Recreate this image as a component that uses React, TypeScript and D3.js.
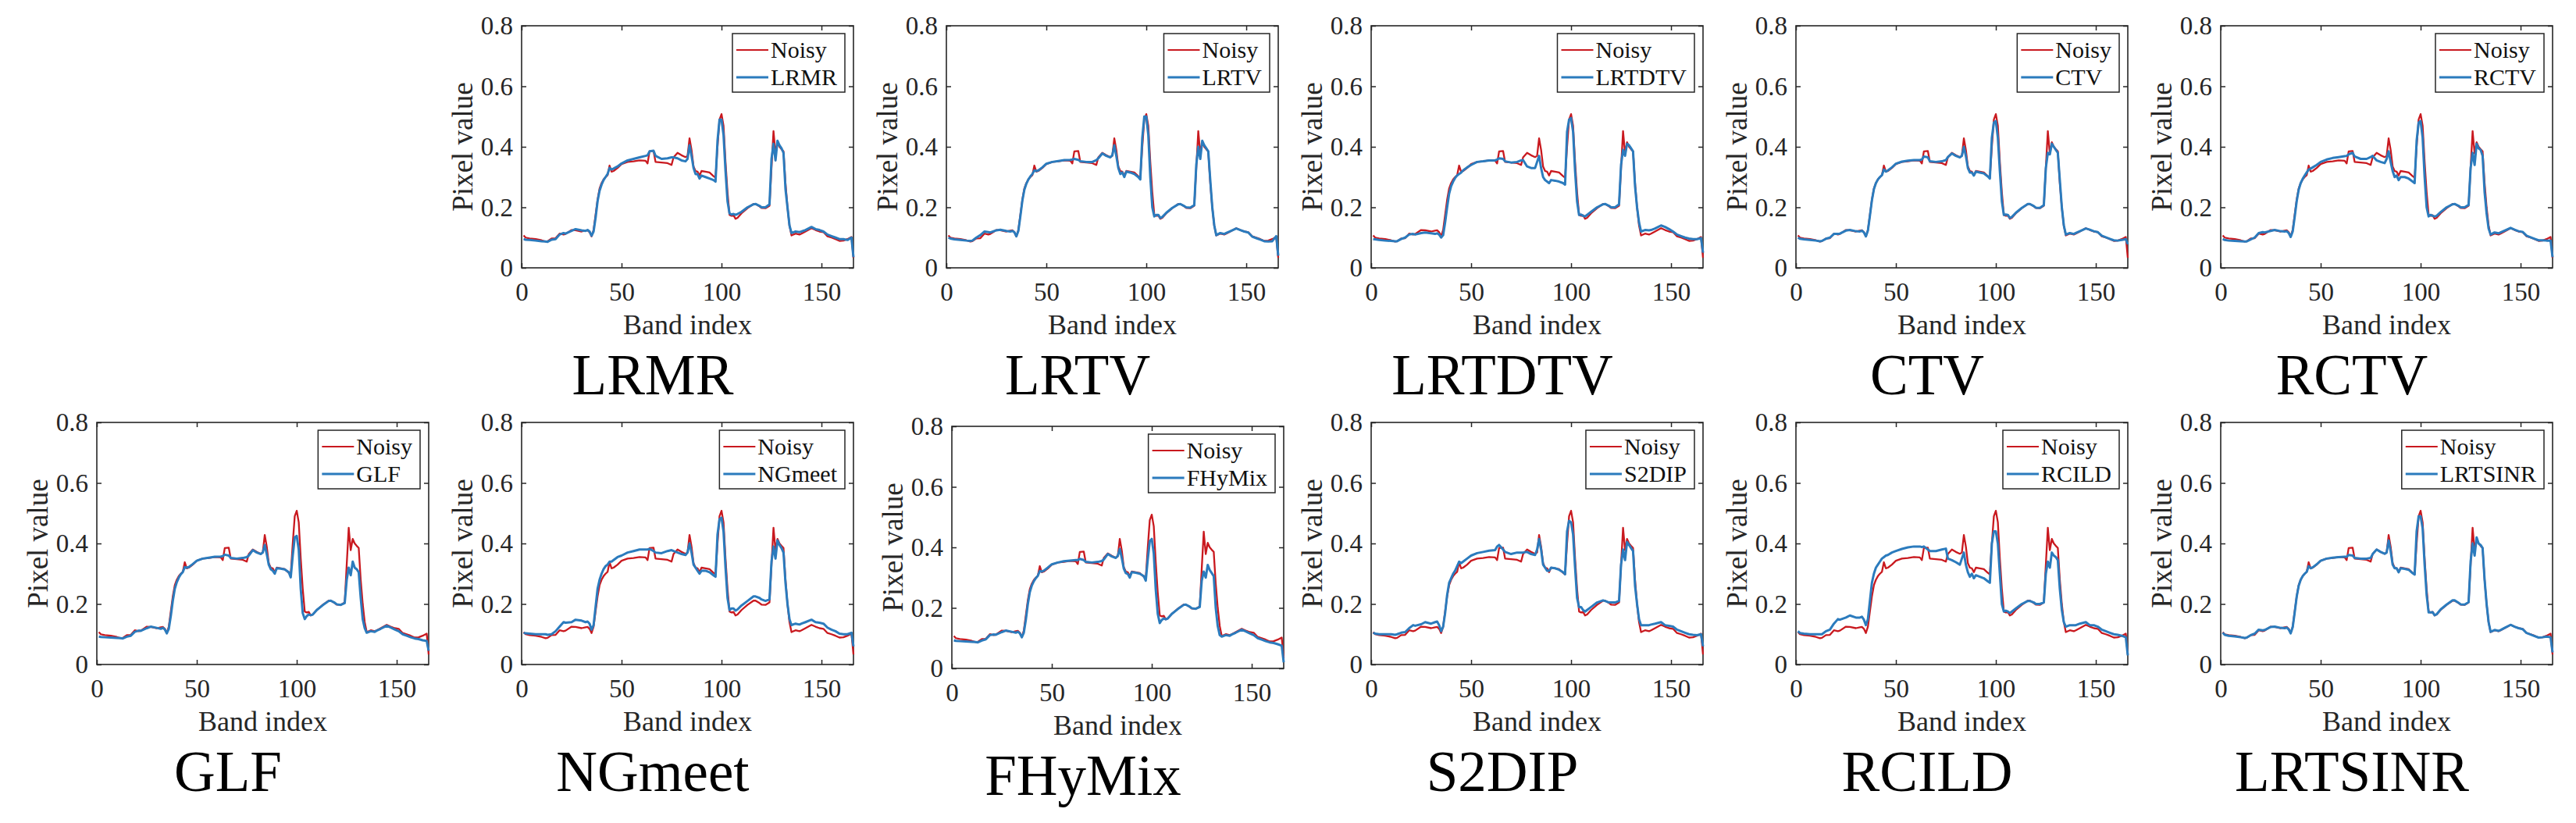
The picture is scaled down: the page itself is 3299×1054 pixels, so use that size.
import * as d3 from "d3";
import * as React from "react";

const bands = [
  1, 2, 4, 7, 10, 12, 13, 15, 17, 19,
  21, 22, 25, 27, 30, 32, 33, 34, 35, 36,
  37, 38, 39, 40, 41, 42, 43, 44, 45, 46,
  48, 50, 53, 56, 59, 62, 63, 64, 66, 67,
  70, 73, 75, 76, 78, 80, 82, 83, 84, 85,
  86, 87, 88, 89, 90, 92, 94, 96, 97, 98,
  99, 100, 101, 102, 103, 104, 105, 106, 107, 108,
  110, 113, 116, 117, 119, 120, 122, 124, 125, 126,
  127, 128, 129, 130, 131, 132, 133, 134, 135, 137,
  139, 140, 142, 145, 147, 149, 151, 153, 155, 157,
  159, 161, 163, 165, 166,
];

const noisy = [
  0.107, 0.1, 0.097, 0.095, 0.091, 0.087, 0.088, 0.097, 0.098, 0.113,
  0.11, 0.112, 0.125, 0.124, 0.12, 0.123, 0.124, 0.118, 0.104, 0.125,
  0.175, 0.225, 0.262, 0.28, 0.292, 0.3, 0.306, 0.338, 0.318, 0.32,
  0.33, 0.343, 0.35, 0.352, 0.355, 0.354, 0.345, 0.385, 0.386, 0.35,
  0.348, 0.346, 0.34, 0.365, 0.38, 0.372, 0.366, 0.37, 0.428, 0.39,
  0.335, 0.32, 0.318, 0.305, 0.32, 0.318, 0.315, 0.303, 0.298, 0.4,
  0.49, 0.508, 0.47, 0.35, 0.25, 0.175, 0.172, 0.174, 0.162, 0.165,
  0.18, 0.197, 0.211, 0.211, 0.203, 0.198, 0.197, 0.205, 0.33, 0.452,
  0.378, 0.415, 0.4, 0.392, 0.385, 0.28, 0.2, 0.14, 0.107, 0.113,
  0.11, 0.113, 0.12, 0.131, 0.125, 0.12, 0.118, 0.104, 0.1, 0.095,
  0.089, 0.09, 0.095, 0.102, 0.033,
];

const lrmr = [
  0.095, 0.093, 0.092, 0.09, 0.088, 0.087, 0.086, 0.093, 0.095, 0.11,
  0.115, 0.113, 0.122, 0.128, 0.124, 0.122, 0.125, 0.12, 0.106, 0.12,
  0.165, 0.22, 0.255, 0.275, 0.29, 0.3, 0.31, 0.33, 0.325, 0.328,
  0.335, 0.345, 0.355, 0.36, 0.365, 0.37, 0.372, 0.385, 0.387, 0.37,
  0.36, 0.362, 0.365, 0.365, 0.362, 0.355, 0.352, 0.36, 0.405, 0.37,
  0.33, 0.31, 0.31, 0.295, 0.305, 0.3, 0.295, 0.29, 0.285, 0.42,
  0.49, 0.49, 0.44, 0.32, 0.22, 0.18, 0.176, 0.178, 0.175, 0.178,
  0.185, 0.2, 0.21, 0.211, 0.205, 0.2, 0.2, 0.21, 0.36, 0.41,
  0.355, 0.42, 0.405, 0.395, 0.38, 0.26, 0.2, 0.14, 0.115, 0.12,
  0.118, 0.12, 0.125, 0.135, 0.128, 0.125, 0.12, 0.11, 0.105, 0.1,
  0.095, 0.095, 0.092, 0.1, 0.035,
];

const lrtv = [
  0.1, 0.097, 0.094, 0.092, 0.09, 0.089, 0.09, 0.1, 0.108, 0.12,
  0.118, 0.117, 0.124, 0.126, 0.122, 0.12, 0.122, 0.118, 0.104, 0.122,
  0.17, 0.222, 0.258, 0.278, 0.292, 0.302, 0.31, 0.322, 0.32, 0.322,
  0.332, 0.344, 0.35, 0.353, 0.356, 0.357, 0.358, 0.36, 0.357, 0.352,
  0.35, 0.35, 0.356, 0.362, 0.378, 0.37, 0.365, 0.372, 0.405, 0.37,
  0.33, 0.31, 0.315, 0.3, 0.318, 0.315, 0.31, 0.3, 0.292, 0.43,
  0.5, 0.5, 0.44, 0.3, 0.2, 0.17, 0.175, 0.175, 0.165, 0.168,
  0.182, 0.198, 0.21, 0.211, 0.204, 0.2, 0.199, 0.207, 0.34, 0.4,
  0.36, 0.42, 0.405, 0.395, 0.385, 0.29, 0.2, 0.14, 0.108, 0.115,
  0.112, 0.115, 0.121, 0.13, 0.125, 0.12, 0.117, 0.103, 0.098, 0.093,
  0.088, 0.087, 0.088, 0.105, 0.04,
];

const lrtdtv = [
  0.095, 0.094, 0.092, 0.09, 0.089, 0.088, 0.088, 0.095, 0.1, 0.11,
  0.112, 0.11, 0.115, 0.117, 0.114, 0.112, 0.114, 0.11, 0.1, 0.108,
  0.15, 0.2, 0.245, 0.27, 0.285, 0.297, 0.305, 0.31, 0.315, 0.322,
  0.332, 0.34, 0.35, 0.352, 0.355, 0.355, 0.358, 0.362, 0.36, 0.352,
  0.348, 0.35, 0.355, 0.356, 0.335, 0.33, 0.33, 0.35, 0.37, 0.33,
  0.3, 0.29, 0.285, 0.28, 0.29, 0.288, 0.285, 0.28, 0.275, 0.45,
  0.49, 0.495, 0.45, 0.32, 0.22, 0.175, 0.176, 0.172, 0.17, 0.175,
  0.185, 0.2, 0.21, 0.211, 0.205, 0.2, 0.2, 0.21, 0.34, 0.39,
  0.37, 0.41, 0.405, 0.395, 0.385, 0.27, 0.2, 0.15, 0.12, 0.125,
  0.124, 0.125, 0.13, 0.14, 0.135, 0.128, 0.12, 0.11, 0.105, 0.1,
  0.097, 0.095, 0.095, 0.098, 0.05,
];

const ctv = [
  0.1, 0.096, 0.094, 0.092, 0.09, 0.088, 0.089, 0.096, 0.1, 0.112,
  0.112, 0.113, 0.123, 0.125, 0.121, 0.12, 0.123, 0.117, 0.104, 0.123,
  0.172, 0.223, 0.26, 0.28, 0.292, 0.3, 0.306, 0.325, 0.318, 0.322,
  0.332, 0.344, 0.351, 0.354, 0.356, 0.356, 0.358, 0.368, 0.365, 0.352,
  0.35, 0.352, 0.356, 0.366, 0.378, 0.37, 0.365, 0.37, 0.4, 0.37,
  0.33, 0.315, 0.315, 0.305, 0.318, 0.315, 0.312, 0.302, 0.295, 0.43,
  0.48, 0.485, 0.43, 0.32, 0.22, 0.175, 0.176, 0.175, 0.165, 0.168,
  0.182, 0.198, 0.211, 0.211, 0.204, 0.199, 0.198, 0.207, 0.33, 0.38,
  0.375, 0.41, 0.4, 0.39, 0.38, 0.29, 0.2, 0.14, 0.11, 0.115,
  0.112, 0.115, 0.121, 0.13, 0.126, 0.121, 0.118, 0.106, 0.101, 0.096,
  0.091, 0.09, 0.092, 0.095, 0.078,
];

const rctv = [
  0.095, 0.092, 0.09, 0.089, 0.088, 0.087, 0.087, 0.094, 0.1, 0.115,
  0.118, 0.117, 0.122, 0.125, 0.121, 0.12, 0.121, 0.115, 0.102, 0.12,
  0.168, 0.22, 0.258, 0.28, 0.294, 0.305, 0.315, 0.325, 0.328, 0.332,
  0.34, 0.35, 0.358, 0.363, 0.366, 0.369, 0.37, 0.375, 0.38, 0.368,
  0.36, 0.36, 0.366, 0.37, 0.355, 0.35, 0.346, 0.36, 0.385, 0.35,
  0.32, 0.3, 0.305, 0.29, 0.3, 0.3, 0.295, 0.285, 0.28, 0.42,
  0.48, 0.485, 0.43, 0.3, 0.2, 0.17, 0.175, 0.172, 0.17, 0.172,
  0.184, 0.2, 0.21, 0.211, 0.205, 0.2, 0.2, 0.208, 0.33, 0.38,
  0.34, 0.41, 0.395, 0.39, 0.37, 0.25, 0.18, 0.13, 0.11, 0.117,
  0.114, 0.117, 0.123, 0.132, 0.126, 0.121, 0.119, 0.106, 0.101, 0.096,
  0.091, 0.091, 0.09, 0.09, 0.035,
];

const glf = [
  0.092, 0.091, 0.09, 0.089, 0.088, 0.087, 0.086, 0.092, 0.095, 0.108,
  0.112, 0.111, 0.12, 0.125, 0.121, 0.118, 0.121, 0.116, 0.103, 0.118,
  0.16, 0.21, 0.25, 0.272, 0.287, 0.298, 0.305, 0.322, 0.32, 0.322,
  0.332, 0.343, 0.35, 0.353, 0.356, 0.357, 0.358, 0.363, 0.36, 0.352,
  0.35, 0.352, 0.355, 0.36, 0.378, 0.37, 0.365, 0.37, 0.395, 0.365,
  0.33, 0.315, 0.31, 0.3, 0.318, 0.317, 0.314, 0.305, 0.288, 0.36,
  0.42, 0.425, 0.38, 0.25, 0.17, 0.15, 0.16, 0.165, 0.163, 0.165,
  0.18, 0.196, 0.21, 0.211, 0.204, 0.199, 0.197, 0.203, 0.28, 0.32,
  0.295, 0.34, 0.32, 0.315, 0.305, 0.22, 0.15, 0.12, 0.105, 0.11,
  0.108, 0.112, 0.118, 0.128, 0.122, 0.116, 0.11, 0.1, 0.095, 0.09,
  0.086, 0.084, 0.08, 0.078, 0.045,
];

const ngmeet = [
  0.105, 0.103, 0.102, 0.1, 0.1, 0.1, 0.098, 0.1, 0.11, 0.125,
  0.14, 0.138, 0.14, 0.148, 0.145, 0.14, 0.142, 0.135, 0.115, 0.13,
  0.19, 0.25, 0.28, 0.3, 0.315, 0.325, 0.33, 0.34, 0.34, 0.345,
  0.355, 0.36, 0.37, 0.375, 0.38, 0.38, 0.38, 0.382, 0.375, 0.37,
  0.368, 0.375, 0.378, 0.375, 0.37, 0.365, 0.362, 0.37, 0.4, 0.37,
  0.33, 0.32, 0.31, 0.3, 0.31, 0.31, 0.305, 0.295, 0.29, 0.43,
  0.48, 0.485, 0.44, 0.32, 0.22, 0.18, 0.185, 0.185, 0.178, 0.182,
  0.195, 0.21, 0.225, 0.225, 0.22, 0.215, 0.21, 0.215, 0.34, 0.39,
  0.35, 0.41, 0.395, 0.385, 0.37, 0.27, 0.2, 0.15, 0.13, 0.135,
  0.132, 0.135, 0.14, 0.148, 0.14, 0.138, 0.135, 0.122, 0.115, 0.11,
  0.102, 0.1, 0.1, 0.105, 0.06,
];

const fhymix = [
  0.093, 0.091, 0.09, 0.089, 0.088, 0.087, 0.086, 0.092, 0.096, 0.11,
  0.112, 0.111, 0.12, 0.125, 0.121, 0.118, 0.121, 0.116, 0.103, 0.118,
  0.16, 0.212, 0.252, 0.274, 0.288, 0.298, 0.306, 0.322, 0.32, 0.323,
  0.333, 0.344, 0.35, 0.354, 0.356, 0.358, 0.358, 0.362, 0.358, 0.352,
  0.35, 0.352, 0.355, 0.36, 0.378, 0.37, 0.365, 0.372, 0.395, 0.365,
  0.33, 0.315, 0.312, 0.3, 0.318, 0.316, 0.313, 0.305, 0.29, 0.36,
  0.42, 0.428, 0.38, 0.26, 0.18, 0.15, 0.16, 0.165, 0.162, 0.165,
  0.18, 0.196, 0.21, 0.211, 0.204, 0.199, 0.197, 0.203, 0.29, 0.32,
  0.3, 0.342, 0.325, 0.315, 0.305, 0.2, 0.14, 0.11, 0.105, 0.11,
  0.108, 0.112, 0.118, 0.128, 0.122, 0.116, 0.11, 0.1, 0.095, 0.09,
  0.086, 0.084, 0.08, 0.075, 0.02,
];

const s2dip = [
  0.105, 0.102, 0.1, 0.1, 0.1, 0.098, 0.1, 0.105, 0.107, 0.12,
  0.13, 0.128, 0.133, 0.14, 0.135, 0.14, 0.142, 0.13, 0.11, 0.125,
  0.17, 0.23, 0.27, 0.285, 0.3, 0.31, 0.325, 0.34, 0.335, 0.34,
  0.35, 0.36, 0.368, 0.372, 0.376, 0.378, 0.39, 0.395, 0.38, 0.372,
  0.365, 0.37, 0.37, 0.37, 0.372, 0.365, 0.362, 0.38, 0.415, 0.38,
  0.33, 0.32, 0.31, 0.31, 0.32, 0.318, 0.313, 0.305, 0.298, 0.44,
  0.475, 0.47, 0.43, 0.32, 0.22, 0.19, 0.19, 0.18, 0.175, 0.18,
  0.19, 0.205, 0.212, 0.21, 0.205, 0.205, 0.205, 0.21, 0.33, 0.38,
  0.345, 0.405, 0.395, 0.385, 0.375, 0.26, 0.2, 0.15, 0.13, 0.13,
  0.13, 0.132, 0.135, 0.14, 0.13, 0.128, 0.125, 0.115, 0.11, 0.105,
  0.1, 0.098, 0.097, 0.1, 0.06,
];

const rcild = [
  0.11, 0.104, 0.102, 0.1, 0.1, 0.1, 0.1, 0.11, 0.115, 0.135,
  0.15, 0.148, 0.155, 0.162, 0.155, 0.155, 0.158, 0.148, 0.13, 0.15,
  0.21, 0.27, 0.3, 0.32, 0.33, 0.34, 0.35, 0.355, 0.36, 0.362,
  0.37, 0.375, 0.382, 0.387, 0.39, 0.39, 0.388, 0.39, 0.38, 0.375,
  0.375, 0.38, 0.383, 0.35, 0.345, 0.338, 0.33, 0.35, 0.37, 0.33,
  0.305, 0.29, 0.3, 0.285, 0.295, 0.29, 0.285, 0.275, 0.27, 0.4,
  0.44, 0.44, 0.4, 0.3, 0.2, 0.175, 0.178, 0.175, 0.17, 0.175,
  0.185, 0.2, 0.21, 0.21, 0.205, 0.2, 0.2, 0.205, 0.3, 0.34,
  0.32, 0.37, 0.36, 0.355, 0.345, 0.25, 0.18, 0.14, 0.125, 0.13,
  0.13, 0.13, 0.135, 0.14, 0.13, 0.13, 0.125, 0.115, 0.11, 0.105,
  0.1, 0.098, 0.095, 0.09, 0.03,
];

const lrtsinr = [
  0.105, 0.098, 0.095, 0.093, 0.09, 0.088, 0.089, 0.097, 0.102, 0.115,
  0.113, 0.114, 0.124, 0.125, 0.121, 0.12, 0.122, 0.116, 0.103, 0.123,
  0.172, 0.224, 0.26, 0.28, 0.292, 0.3, 0.306, 0.325, 0.318, 0.321,
  0.331, 0.343, 0.35, 0.353, 0.355, 0.356, 0.356, 0.362, 0.36, 0.352,
  0.35, 0.35, 0.352, 0.365, 0.38, 0.372, 0.366, 0.37, 0.41, 0.375,
  0.33, 0.318, 0.318, 0.305, 0.318, 0.316, 0.313, 0.302, 0.297, 0.44,
  0.49, 0.49, 0.45, 0.33, 0.23, 0.172, 0.172, 0.173, 0.163, 0.166,
  0.182, 0.198, 0.212, 0.212, 0.204, 0.199, 0.198, 0.206, 0.34, 0.4,
  0.36, 0.42, 0.4, 0.395, 0.385, 0.28, 0.2, 0.14, 0.108, 0.114,
  0.111, 0.114, 0.121, 0.131, 0.125, 0.12, 0.117, 0.104, 0.099, 0.094,
  0.089, 0.09, 0.092, 0.09, 0.04,
];

const xTicks = [0, 50, 100, 150];
const yTicks = [0, 0.2, 0.4, 0.6, 0.8];

const WIDTH = 3299;
const HEIGHT = 1054;
const PLOT_W = 425;
const PLOT_H = 310;
const COL_X = 124;
const COL_STEP = 544;
const ROW_Y = [33, 541];

const RED = "#c9191f";
const BLUE = "#2b7bbd";
const AXIS = "#262626";
const FONT = "Liberation Serif, Times New Roman, serif";

interface Panel {
  name: string;
  values: number[];
  col: number;
  row: number;
  dx?: number;
  dy?: number;
}

const panels: Panel[] = [
  { name: "LRMR", values: lrmr, col: 1, row: 0 },
  { name: "LRTV", values: lrtv, col: 2, row: 0 },
  { name: "LRTDTV", values: lrtdtv, col: 3, row: 0 },
  { name: "CTV", values: ctv, col: 4, row: 0 },
  { name: "RCTV", values: rctv, col: 5, row: 0 },
  { name: "GLF", values: glf, col: 0, row: 1 },
  { name: "NGmeet", values: ngmeet, col: 1, row: 1 },
  // this one sits a few pixels lower / right in the original figure
  { name: "FHyMix", values: fhymix, col: 2, row: 1, dx: 7, dy: 5 },
  { name: "S2DIP", values: s2dip, col: 3, row: 1 },
  { name: "RCILD", values: rcild, col: 4, row: 1 },
  { name: "LRTSINR", values: lrtsinr, col: 5, row: 1 },
];

let measureCtx: CanvasRenderingContext2D | null = null;
function textWidth(s: string, size: number) {
  if (!measureCtx) measureCtx = document.createElement("canvas").getContext("2d");
  if (!measureCtx) return s.length * size * 0.55;
  measureCtx.font = `${size}px "Liberation Serif", serif`;
  return measureCtx.measureText(s).width;
}

function drawPanel(root: d3.Selection<SVGSVGElement, unknown, null, undefined>, p: Panel) {
  const left = COL_X + COL_STEP * p.col + (p.dx || 0);
  const top = ROW_Y[p.row] + (p.dy || 0);

  const x = d3.scaleLinear().domain([0, 166]).range([0, PLOT_W]);
  const y = d3.scaleLinear().domain([0, 0.8]).range([PLOT_H, 0]);

  const g = root.append("g").attr("transform", `translate(${left},${top})`);

  // axes: ticks point inward on every side, labels only bottom / left
  const styleAxis = (a: d3.Selection<SVGGElement, unknown, null, undefined>) => {
    a.attr("font-family", null).attr("font-size", null);
    a.style("font-family", FONT).style("font-size", "33px");
    a.select(".domain").remove();
    a.selectAll(".tick line").attr("stroke", AXIS).attr("stroke-width", 1.5);
    a.selectAll(".tick text").attr("fill", AXIS);
  };

  g.append("g")
    .attr("transform", `translate(0,${PLOT_H})`)
    .call(d3.axisBottom(x).tickValues(xTicks).tickSizeInner(-6).tickSizeOuter(0).tickPadding(19).tickFormat(d3.format("d")))
    .call(styleAxis);
  g.append("g")
    .call(d3.axisTop(x).tickValues(xTicks).tickSizeInner(-6).tickSizeOuter(0).tickFormat(() => ""))
    .call(styleAxis);
  g.append("g")
    .call(
      d3
        .axisLeft(y)
        .tickValues(yTicks)
        .tickSizeInner(-6)
        .tickSizeOuter(0)
        .tickPadding(11)
        .tickFormat((d) => (+d === 0 ? "0" : d3.format(".1f")(+d)))
    )
    .call(styleAxis);
  g.append("g")
    .attr("transform", `translate(${PLOT_W},0)`)
    .call(d3.axisRight(y).tickValues(yTicks).tickSizeInner(-6).tickSizeOuter(0).tickFormat(() => ""))
    .call(styleAxis);

  g.append("rect")
    .attr("width", PLOT_W)
    .attr("height", PLOT_H)
    .attr("fill", "none")
    .attr("stroke", AXIS)
    .attr("stroke-width", 1.6);

  const line = d3
    .line<number>()
    .x((_, i) => x(bands[i]))
    .y((d) => y(d));

  g.append("path")
    .attr("d", line(noisy))
    .attr("fill", "none")
    .attr("stroke", RED)
    .attr("stroke-width", 2.3)
    .attr("stroke-linejoin", "round");
  g.append("path")
    .attr("d", line(p.values))
    .attr("fill", "none")
    .attr("stroke", BLUE)
    .attr("stroke-width", 3)
    .attr("stroke-linejoin", "round");

  // legend, top-right inside the box
  const lw = 49 + Math.max(textWidth("Noisy", 30), textWidth(p.name, 30)) + 10;
  const leg = g.append("g").attr("transform", `translate(${PLOT_W - 11 - lw},10)`);
  leg.append("rect")
    .attr("width", lw)
    .attr("height", 75)
    .attr("fill", "white")
    .attr("stroke", AXIS)
    .attr("stroke-width", 1.5);
  const entries = [
    { label: "Noisy", color: RED, w: 2 },
    { label: p.name, color: BLUE, w: 3 },
  ];
  entries.forEach((e, i) => {
    const cy = 21 + i * 35;
    leg.append("line")
      .attr("x1", 5)
      .attr("x2", 46)
      .attr("y1", cy)
      .attr("y2", cy)
      .attr("stroke", e.color)
      .attr("stroke-width", e.w);
    leg.append("text")
      .attr("x", 49)
      .attr("y", cy + 10)
      .style("font-family", FONT)
      .style("font-size", "30px")
      .attr("fill", "#111")
      .text(e.label);
  });

  g.append("text")
    .attr("x", PLOT_W / 2)
    .attr("y", PLOT_H + 85)
    .attr("text-anchor", "middle")
    .style("font-family", FONT)
    .style("font-size", "36px")
    .attr("fill", AXIS)
    .text("Band index");

  g.append("text")
    .attr("transform", `translate(-63,${PLOT_H / 2}) rotate(-90)`)
    .attr("text-anchor", "middle")
    .style("font-family", FONT)
    .style("font-size", "37px")
    .attr("fill", AXIS)
    .text("Pixel value");

  g.append("text")
    .attr("x", 168)
    .attr("y", PLOT_H + 162)
    .attr("text-anchor", "middle")
    .style("font-family", FONT)
    .style("font-size", "73px")
    .attr("fill", "#000")
    .text(p.name);
}

export default function App() {
  const ref = React.useRef<SVGSVGElement>(null);

  React.useEffect(() => {
    const svg = d3.select(ref.current as SVGSVGElement);
    svg.selectAll("*").remove();
    svg.append("rect").attr("width", WIDTH).attr("height", HEIGHT).attr("fill", "white");
    panels.forEach((p) => drawPanel(svg, p));
  }, []);

  return (
    <svg
      ref={ref}
      width={WIDTH}
      height={HEIGHT}
      style={{ position: "absolute", left: 0, top: 0, display: "block" }}
    />
  );
}
